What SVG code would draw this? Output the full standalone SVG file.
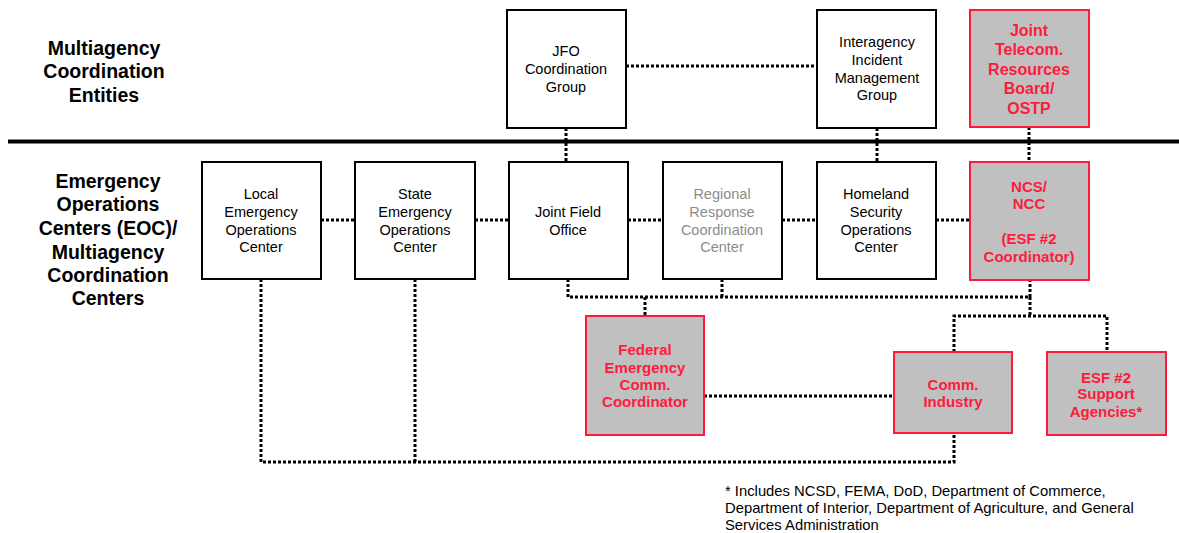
<svg xmlns="http://www.w3.org/2000/svg" width="1179" height="533" viewBox="0 0 1179 533">
<style>
.box{fill:#fff;stroke:#000;stroke-width:2}
.rbox{fill:#c0c0c0;stroke:#ff1a3c;stroke-width:2}
.t{font-family:"Liberation Sans",Arial,sans-serif;font-size:14.5px;fill:#000;text-anchor:middle}
.g{fill:#8c8c8c}
.r{font-family:"Liberation Sans",Arial,sans-serif;font-size:15px;font-weight:bold;fill:#ff1a3c;text-anchor:middle}
.rl{font-size:16px}
.h{font-family:"Liberation Sans",Arial,sans-serif;font-size:19.5px;font-weight:bold;fill:#000;text-anchor:middle}
.f{font-family:"Liberation Sans",Arial,sans-serif;font-size:14.8px;fill:#000}
.d{fill:none;stroke:#000;stroke-width:3;stroke-dasharray:3 2}
</style>
<rect width="1179" height="533" fill="#fff"/>
<g id="labels">
<text class="h" x="104" y="55">Multiagency</text>
<text class="h" x="104" y="78">Coordination</text>
<text class="h" x="104" y="102">Entities</text>
<text class="h" x="108" y="188">Emergency</text>
<text class="h" x="108" y="211">Operations</text>
<text class="h" x="108" y="235">Centers (EOC)/</text>
<text class="h" x="108" y="259">Multiagency</text>
<text class="h" x="108" y="282">Coordination</text>
<text class="h" x="108" y="305">Centers</text>
</g>
<line x1="8" y1="141.5" x2="1179" y2="141.5" stroke="#000" stroke-width="4"/>
<g id="connectors">
<line class="d" x1="626" y1="66" x2="817" y2="66"/>
<line class="d" x1="566" y1="128" x2="566" y2="162"/>
<line class="d" x1="877" y1="128" x2="877" y2="162"/>
<line class="d" x1="1029" y1="127" x2="1029" y2="162"/>
<line class="d" x1="321" y1="220" x2="355" y2="220"/>
<line class="d" x1="475" y1="220" x2="509" y2="220"/>
<line class="d" x1="628" y1="220" x2="663" y2="220"/>
<line class="d" x1="782" y1="220" x2="817" y2="220"/>
<line class="d" x1="936" y1="220" x2="970" y2="220"/>
<polyline class="d" points="568,279 568,297 1030,297 1030,280"/>
<line class="d" x1="722" y1="279" x2="722" y2="297"/>
<line class="d" x1="645" y1="297" x2="645" y2="316"/>
<line class="d" x1="1030" y1="297" x2="1030" y2="316"/>
<polyline class="d" points="954,352 954,316 1107,316 1107,352"/>
<line class="d" x1="704" y1="396" x2="894" y2="396"/>
<polyline class="d" points="261,279 261,462 954,462 954,433"/>
<line class="d" x1="415" y1="279" x2="415" y2="462"/>
</g>
<g id="jfo-coord">
<rect class="box" x="507" y="10" width="119" height="118"/>
<text class="t" x="566" y="56">JFO</text>
<text class="t" x="566" y="74">Coordination</text>
<text class="t" x="566" y="92">Group</text>
</g>
<g id="iimg">
<rect class="box" x="817" y="10" width="119" height="118"/>
<text class="t" x="877" y="47">Interagency</text>
<text class="t" x="877" y="65">Incident</text>
<text class="t" x="877" y="83">Management</text>
<text class="t" x="877" y="100">Group</text>
</g>
<g id="jtrb">
<rect class="rbox" x="970" y="10" width="119" height="117"/>
<text class="r rl" x="1029" y="36">Joint</text>
<text class="r rl" x="1029" y="55">Telecom.</text>
<text class="r rl" x="1029" y="75">Resources</text>
<text class="r rl" x="1029" y="94">Board/</text>
<text class="r rl" x="1029" y="114">OSTP</text>
</g>
<g id="local-eoc">
<rect class="box" x="202" y="162" width="119" height="117"/>
<text class="t" x="261" y="199">Local</text>
<text class="t" x="261" y="217">Emergency</text>
<text class="t" x="261" y="235">Operations</text>
<text class="t" x="261" y="252">Center</text>
</g>
<g id="state-eoc">
<rect class="box" x="355" y="162" width="120" height="117"/>
<text class="t" x="415" y="199">State</text>
<text class="t" x="415" y="217">Emergency</text>
<text class="t" x="415" y="235">Operations</text>
<text class="t" x="415" y="252">Center</text>
</g>
<g id="jfo">
<rect class="box" x="509" y="162" width="119" height="117"/>
<text class="t" x="568" y="217">Joint Field</text>
<text class="t" x="568" y="235">Office</text>
</g>
<g id="rrcc">
<rect class="box" x="663" y="162" width="119" height="117"/>
<text class="t g" x="722" y="199">Regional</text>
<text class="t g" x="722" y="217">Response</text>
<text class="t g" x="722" y="235">Coordination</text>
<text class="t g" x="722" y="252">Center</text>
</g>
<g id="hsoc">
<rect class="box" x="817" y="162" width="119" height="117"/>
<text class="t" x="876" y="199">Homeland</text>
<text class="t" x="876" y="217">Security</text>
<text class="t" x="876" y="235">Operations</text>
<text class="t" x="876" y="252">Center</text>
</g>
<g id="ncs">
<rect class="rbox" x="970" y="162" width="119" height="118"/>
<text class="r" x="1029" y="192">NCS/</text>
<text class="r" x="1029" y="209">NCC</text>
<text class="r" x="1029" y="244">(ESF #2</text>
<text class="r" x="1029" y="262">Coordinator)</text>
</g>
<g id="fecc">
<rect class="rbox" x="586" y="316" width="118" height="119"/>
<text class="r" x="645" y="355">Federal</text>
<text class="r" x="645" y="373">Emergency</text>
<text class="r" x="645" y="390">Comm.</text>
<text class="r" x="645" y="407">Coordinator</text>
</g>
<g id="comm-industry">
<rect class="rbox" x="894" y="352" width="118" height="81"/>
<text class="r" x="953" y="390">Comm.</text>
<text class="r" x="953" y="407">Industry</text>
</g>
<g id="esf2">
<rect class="rbox" x="1047" y="352" width="119" height="83"/>
<text class="r" x="1106" y="383">ESF #2</text>
<text class="r" x="1106" y="399">Support</text>
<text class="r" x="1106" y="417">Agencies*</text>
</g>
<g id="footnote">
<text class="f" x="725" y="496">* Includes NCSD, FEMA, DoD, Department of Commerce,</text>
<text class="f" x="725" y="513">Department of Interior, Department of Agriculture, and General</text>
<text class="f" x="725" y="530">Services Administration</text>
</g>
</svg>
